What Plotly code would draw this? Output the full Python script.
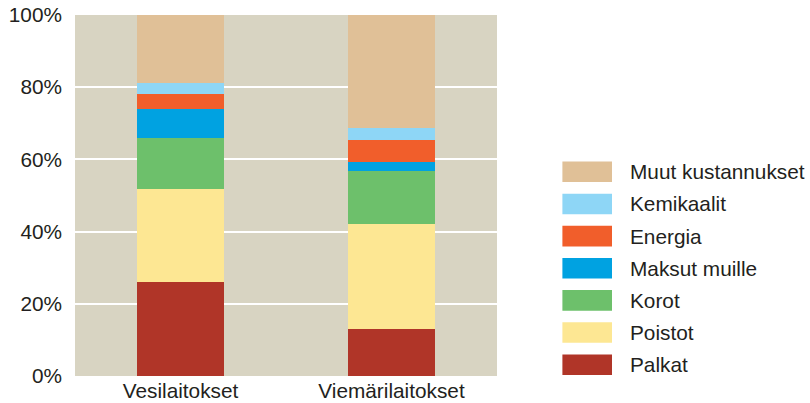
import plotly.graph_objects as go

# Cost structure of water and sewer utilities (share of total costs, %)
categories = ["Vesilaitokset", "Viemärilaitokset"]

palkat = [26.1, 13.1]
poistot = [25.7, 29.1]
korot = [14.0, 14.5]
maksut_muille = [8.2, 2.7]
energia = [4.2, 6.1]
kemikaalit = [3.0, 3.3]
muut_kustannukset = [18.8, 31.2]

series_names = ["Palkat", "Poistot", "Korot", "Maksut muille",
                "Energia", "Kemikaalit", "Muut kustannukset"]
series_values = [palkat, poistot, korot, maksut_muille,
                 energia, kemikaalit, muut_kustannukset]
series_colors = ["#b03528", "#fde793", "#6dc06b", "#00a2e1",
                 "#f15e2b", "#8ed6f6", "#e0c097"]

tick_values = [0, 20, 40, 60, 80, 100]
tick_labels = ["0%", "20%", "40%", "60%", "80%", "100%"]

FONT = "Liberation Sans, Arial, sans-serif"
TEXT = "#231f20"
FS = 20.8

fig = go.Figure()
for name, vals, col in zip(series_names, series_values, series_colors):
    fig.add_trace(go.Bar(
        x=categories, y=vals, name=name,
        marker=dict(color=col, line=dict(width=0)),
        showlegend=False,
    ))

# Hand-built legend: large swatches with labels, top entry = top stack
plot_w, plot_h = 422.0, 361.5
row_step = 32.2 / plot_h
sw_x0 = (562.7 - 75.3) / plot_w
sw_x1 = (612.3 - 75.3) / plot_w
txt_x = (628.5 - 75.3) / plot_w
sw_half = 10.3 / plot_h
top_row = (376.5 - 172.0) / plot_h
for i, (name, col) in enumerate(zip(reversed(series_names), reversed(series_colors))):
    yc = top_row - i * row_step
    fig.add_shape(type="rect", xref="paper", yref="paper",
                  x0=sw_x0, x1=sw_x1, y0=yc - sw_half, y1=yc + sw_half,
                  fillcolor=col, line=dict(width=0), layer="above")
    fig.add_annotation(xref="paper", yref="paper", x=txt_x, y=yc,
                       text=name, showarrow=False, xanchor="left", yanchor="middle",
                       font=dict(family=FONT, size=FS, color=TEXT))

fig.update_layout(
    barmode="stack",
    bargap=0.583,
    width=810, height=403,
    margin=dict(l=75.3, r=312.7, t=15, b=26.5),
    paper_bgcolor="white",
    plot_bgcolor="#d8d4c2",
    font=dict(family=FONT, size=FS, color=TEXT),
    xaxis=dict(showgrid=False, zeroline=False, showline=False, ticks="",
               tickfont=dict(size=FS, color=TEXT), automargin=False),
    yaxis=dict(range=[0, 100], tickvals=tick_values, ticktext=tick_labels,
               showgrid=True, gridcolor="white", gridwidth=1.5,
               zeroline=False, showline=False, ticks="",
               ticklabelstandoff=12,
               tickfont=dict(size=FS, color=TEXT), automargin=False),
)

fig.write_html("out.html")
